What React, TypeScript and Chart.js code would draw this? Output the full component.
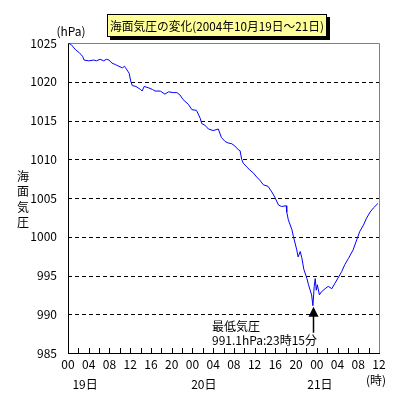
import React, { useEffect, useRef } from "react";
import { Chart, registerables } from "chart.js";
Chart.register(...registerables);

// hours since 2004-10-19 00:00
const hours = [
  0, 0.6, 1.5, 2.1, 2.8, 3.1, 4.0, 5.0, 5.5, 6.2, 6.9, 7.4, 7.9, 8.5, 9.2, 9.8,
  10.5, 10.9, 11.1, 11.8, 12.1, 12.4, 13.1, 14.0, 14.3, 14.7, 15.6, 16.3, 16.8,
  17.8, 18.7, 19.4, 20.3, 21.0, 21.6, 22.2, 23.2, 23.9, 24.8, 25.5, 25.8, 26.4,
  27.1, 28.0, 29.0, 29.6, 30.3, 30.9, 31.6, 32.2, 32.9, 33.2, 33.5, 33.8, 34.5,
  35.1, 35.8, 36.4, 37.0, 37.7, 38.6, 39.3, 39.9, 40.6, 41.2, 42.1, 42.2, 42.5,
  43.2, 43.5, 44.1, 44.4, 44.8, 45.1, 45.5, 46.1, 46.4, 47.0, 47.25, 47.5, 47.7,
  47.9, 48.1, 48.5, 48.9, 49.6, 50.2, 50.9, 51.5, 52.2, 52.8, 53.4, 54.1, 55.0,
  55.7, 56.3, 57.0, 57.6, 58.3, 58.9, 59.8,
];
const pressure = [
  1025.0, 1024.8, 1024.1, 1023.8, 1023.3, 1022.8, 1022.7, 1022.8, 1022.7, 1022.9,
  1022.7, 1022.9, 1022.8, 1022.4, 1022.2, 1022.0, 1021.8, 1022.0, 1021.8, 1021.1,
  1020.1, 1019.5, 1019.4, 1019.0, 1018.8, 1019.4, 1019.2, 1019.0, 1018.8, 1018.8,
  1018.4, 1018.7, 1018.6, 1018.6, 1018.3, 1017.7, 1017.1, 1016.4, 1016.3, 1015.3,
  1014.6, 1014.4, 1013.9, 1013.7, 1013.9, 1012.8, 1012.3, 1012.1, 1012.0, 1011.7,
  1011.2, 1011.1, 1010.0, 1009.5, 1009.0, 1008.6, 1008.2, 1007.7, 1007.3, 1006.7,
  1006.5, 1005.8, 1005.1, 1004.1, 1003.9, 1004.0, 1003.2, 1002.2, 1000.9, 1000.0,
  998.4, 997.4, 998.1, 997.3, 995.8, 994.6, 993.8, 992.5, 991.1, 993.6, 994.6,
  993.1, 993.8, 992.5, 992.9, 993.3, 993.6, 993.3, 994.0, 994.8, 995.5, 996.4,
  997.2, 998.3, 999.6, 1000.7, 1001.5, 1002.4, 1003.2, 1003.7, 1004.3,
];

const yMin = 985;
const yMax = 1025;
const yStep = 5;
const gridValues = [990, 995, 1000, 1005, 1010, 1015, 1020];
const xMax = 60;
const xLabelStep = 4;
const xMinorStep = 2;
const dayLabels = ["19日", "20日", "21日"];
const dayLabelHours = [3.3, 26.2, 48.6];
const titleText = "海面気圧の変化(2004年10月19日～21日)";
const yAxisTitle = ["海", "面", "気", "圧"];
const unitText = "(hPa)";
const hourUnitText = "(時)";
const minHour = 47.25;
const minPressure = 991.1;
const minLabel1 = "最低気圧";
const minLabel2 = "991.1hPa:23時15分";

const FONT = '"Noto Sans CJK JP", "DejaVu Sans", sans-serif';

const decoPlugin = {
  id: "deco",
  beforeDatasetsDraw(chart: any) {
    const { ctx, chartArea: a, scales } = chart;
    const x = scales.x;
    const y = scales.y;
    ctx.save();
    ctx.lineWidth = 1;
    ctx.strokeStyle = "#000";
    ctx.setLineDash([4, 3]);
    for (const v of gridValues) {
      const py = Math.round(y.getPixelForValue(v)) + 0.5;
      ctx.beginPath();
      ctx.moveTo(a.left, py);
      ctx.lineTo(a.right, py);
      ctx.stroke();
    }
    ctx.setLineDash([]);
    ctx.strokeStyle = "#808080";
    ctx.beginPath();
    ctx.moveTo(a.left, Math.round(a.top) + 0.5);
    ctx.lineTo(Math.round(a.right) + 0.5, Math.round(a.top) + 0.5);
    ctx.lineTo(Math.round(a.right) + 0.5, a.bottom);
    ctx.stroke();
    ctx.strokeStyle = "#000";
    for (let h = xMinorStep; h < xMax; h += xMinorStep) {
      const px = Math.round(x.getPixelForValue(h)) + 0.5;
      ctx.beginPath();
      ctx.moveTo(px, a.bottom);
      ctx.lineTo(px, a.bottom - 5);
      ctx.stroke();
    }
    ctx.restore();
  },
  afterDraw(chart: any) {
    const { ctx, scales } = chart;
    const x = scales.x;
    const y = scales.y;
    ctx.save();
    ctx.fillStyle = "#000";
    ctx.font = `12px ${FONT}`;
    ctx.textBaseline = "middle";
    ctx.textAlign = "center";
    dayLabels.forEach((t, i) => ctx.fillText(t, x.getPixelForValue(dayLabelHours[i]), 384));
    ctx.fillText(hourUnitText, 376, 380);
    ctx.fillText(unitText, 71, 31);
    yAxisTitle.forEach((c, i) => ctx.fillText(c, 23, 176 + i * 15.5));

    // title box
    const bx = 107, by = 14, bw = 220, bh = 23;
    ctx.fillStyle = "#000";
    ctx.fillRect(bx + 3, by + 3, bw, bh);
    ctx.fillStyle = "#FFFF99";
    ctx.fillRect(bx, by, bw, bh);
    ctx.strokeStyle = "#000";
    ctx.lineWidth = 1;
    ctx.strokeRect(bx + 0.5, by + 0.5, bw - 1, bh - 1);
    ctx.fillStyle = "#000";
    ctx.font = `12px ${FONT}`;
    ctx.fillText(titleText, bx + bw / 2, by + bh / 2 + 1, bw - 6);

    // minimum annotation
    const ax = Math.round(x.getPixelForValue(minHour)) + 0.5;
    const ay = y.getPixelForValue(minPressure) + 1;
    ctx.beginPath();
    ctx.moveTo(ax, ay);
    ctx.lineTo(ax - 5, ay + 10);
    ctx.lineTo(ax + 5, ay + 10);
    ctx.closePath();
    ctx.fill();
    ctx.beginPath();
    ctx.moveTo(ax, ay + 9);
    ctx.lineTo(ax, ay + 26);
    ctx.lineWidth = 1.5;
    ctx.stroke();
    ctx.textAlign = "left";
    ctx.fillText(minLabel1, 212, 326);
    ctx.fillText(minLabel2, 212, 340);
    ctx.restore();
  },
};

export default function App() {
  const ref = useRef<HTMLCanvasElement>(null);
  useEffect(() => {
    if (!ref.current) return;
    const data = hours.map((h, i) => ({ x: h, y: pressure[i] }));
    const chart = new Chart(ref.current, {
      type: "line",
      data: {
        datasets: [
          {
            data,
            borderColor: "#0000FF",
            borderWidth: 1,
            pointRadius: 0,
            tension: 0,
            fill: false,
          },
        ],
      },
      options: {
        animation: false,
        responsive: false,
        devicePixelRatio: 1,
        layout: { padding: { top: 43, right: 20, left: 0, bottom: 0 } },
        plugins: { legend: { display: false }, tooltip: { enabled: false }, title: { display: false } },
        scales: {
          x: {
            type: "linear",
            min: 0,
            max: xMax,
            grid: { display: false, drawTicks: false },
            border: { display: true, color: "#000", width: 1 },
            afterFit: (s: any) => { s.height = 46; },
            afterBuildTicks: (s: any) => {
              const t = [];
              for (let h = 0; h <= xMax; h += xLabelStep) t.push({ value: h });
              s.ticks = t;
            },
            ticks: {
              autoSkip: false,
              maxRotation: 0,
              padding: 4,
              color: "#000",
              font: { family: FONT, size: 12 },
              callback: (v: any) => String(Number(v) % 24).padStart(2, "0"),
            },
          },
          y: {
            min: yMin,
            max: yMax,
            grid: { display: false, drawTicks: false },
            border: { display: true, color: "#000", width: 1 },
            afterFit: (s: any) => { s.width = 68; },
            ticks: {
              stepSize: yStep,
              padding: 11,
              color: "#000",
              font: { family: FONT, size: 12 },
              callback: (v: any) => String(v),
            },
          },
        },
      },
      plugins: [decoPlugin],
    });
    return () => chart.destroy();
  }, []);
  return (
    <div style={{ position: "absolute", left: 0, top: 0, width: 399, height: 399, background: "#fff" }}>
      <canvas ref={ref} width={399} height={399} style={{ width: 399, height: 399 }} />
    </div>
  );
}
